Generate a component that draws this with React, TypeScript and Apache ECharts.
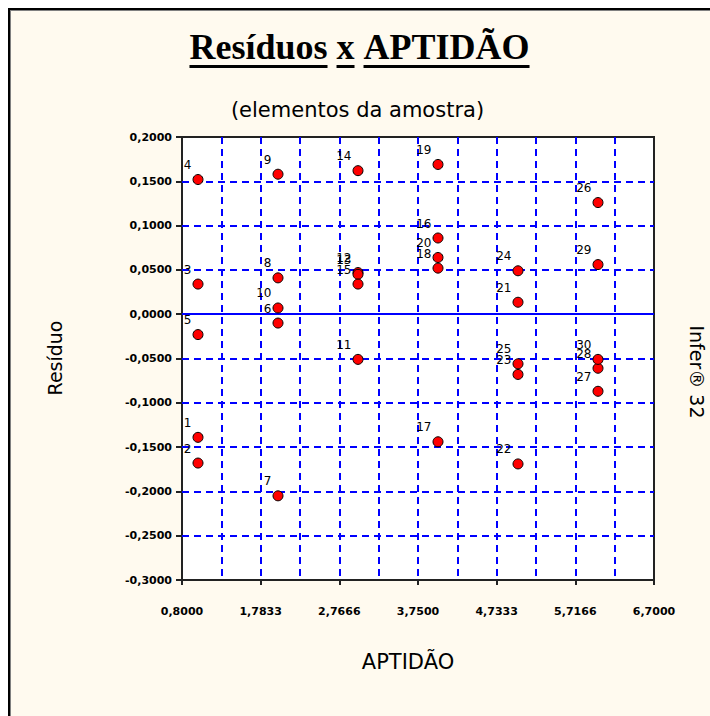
import React, { useEffect, useRef } from "react";
import * as echarts from "echarts";

// ---- data ----
const ELEMENTS = [
  "1", "2", "3", "4", "5", "6", "7", "8", "9", "10",
  "11", "12", "13", "14", "15", "16", "17", "18", "19", "20",
  "21", "22", "23", "24", "25", "26", "27", "28", "29", "30",
];
const APTIDAO = [
  1, 1, 1, 1, 1, 2, 2, 2, 2, 2,
  3, 3, 3, 3, 3, 4, 4, 4, 4, 4,
  5, 5, 5, 5, 5, 6, 6, 6, 6, 6,
];
const RESIDUO = [
  -0.139, -0.168, 0.034, 0.152, -0.023, -0.010, -0.205, 0.041, 0.158, 0.007,
  -0.051, 0.047, 0.045, 0.162, 0.034, 0.086, -0.144, 0.052, 0.169, 0.064,
  0.0135, -0.169, -0.068, 0.049, -0.056, 0.126, -0.087, -0.061, 0.056, -0.051,
];
const X_TICK_LABELS = ["0,8000", "1,7833", "2,7666", "3,7500", "4,7333", "5,7166", "6,7000"];
const Y_TICK_LABELS = [
  "-0,3000", "-0,2500", "-0,2000", "-0,1500", "-0,1000", "-0,0500",
  "0,0000", "0,0500", "0,1000", "0,1500", "0,2000",
];
const TITLE_WORDS = ["Resíduos", "x", "APTIDÃO"];
const SUBTITLE = "(elementos da amostra)";
const Y_NAME = "Resíduo";
const X_NAME = "APTIDÃO";
const SIDE_NOTE = "Infer® 32";

const X_MIN = 0.8;
const X_MAX = 6.7;
const X_STEP = (X_MAX - X_MIN) / 12;
const Y_MIN = -0.3;
const Y_MAX = 0.2;
const Y_STEP = 0.05;

const SANS = '"DejaVu Sans", sans-serif';
const SERIF = '"Liberation Serif", "Times New Roman", serif';

export default function App() {
  const ref = useRef<HTMLDivElement>(null);

  useEffect(() => {
    const chart = echarts.init(ref.current!, null, { renderer: "svg" });

    // title with per-word underline
    const titleSize = 36;
    const ctx = document.createElement("canvas").getContext("2d")!;
    ctx.font = `bold ${titleSize}px ${SERIF}`;
    const spaceW = ctx.measureText(" ").width;
    const widths = TITLE_WORDS.map((w) => ctx.measureText(w).width);
    const total = widths.reduce((a, b) => a + b, 0) + spaceW * (TITLE_WORDS.length - 1);
    const centerX = 349.5;
    const titleY = 37;
    const underlineY = 56.5;
    let cx = centerX - total / 2;
    const titleEls: any[] = [];
    TITLE_WORDS.forEach((w, i) => {
      titleEls.push({
        type: "text",
        x: cx,
        y: titleY,
        style: {
          text: w,
          fontSize: titleSize,
          fontWeight: "bold",
          fontFamily: SERIF,
          fill: "#000",
          align: "left",
          verticalAlign: "middle",
        },
      });
      titleEls.push({
        type: "line",
        shape: { x1: cx, y1: underlineY, x2: cx + widths[i], y2: underlineY },
        style: { stroke: "#000", lineWidth: 3 },
      });
      cx += widths[i] + spaceW;
    });

    const data = APTIDAO.map((x, i) => [(x - X_MIN) / X_STEP, RESIDUO[i], ELEMENTS[i]]);

    const gridLine = { color: "#0000FF", type: [7, 5], width: 2 };
    const tickFont = { fontFamily: SANS, fontSize: 11, fontWeight: "bold", color: "#000" };

    const option: any = {
      animation: false,
      grid: {
        left: 172,
        top: 127,
        width: 472,
        height: 443,
        show: true,
        backgroundColor: "#FFFFFF",
        borderColor: "#222",
        borderWidth: 2,
      },
      xAxis: [
        {
          type: "value",
          min: 0,
          max: 12,
          interval: 1,
          axisLine: { show: false },
          axisTick: { show: false },
          axisLabel: { show: false },
          splitLine: { show: true, showMinLine: false, showMaxLine: false, lineStyle: gridLine },
        },
        {
          type: "value",
          position: "bottom",
          min: 0,
          max: 12,
          interval: 2,
          axisLine: { show: false },
          axisTick: { show: true, length: 5, lineStyle: { color: "#222", width: 2 } },
          axisLabel: {
            margin: 26,
            ...tickFont,
            formatter: (v: number) => X_TICK_LABELS[Math.round(v / 2)] ?? "",
          },
          splitLine: { show: false },
        },
      ],
      yAxis: {
        type: "value",
        min: Y_MIN,
        max: Y_MAX,
        interval: Y_STEP,
        axisLine: { show: false },
        axisTick: { show: true, length: 6, lineStyle: { color: "#222", width: 2 } },
        axisLabel: {
          margin: 10,
          ...tickFont,
          formatter: (v: number) => Y_TICK_LABELS[Math.round((v - Y_MIN) / Y_STEP)] ?? "",
        },
        splitLine: { show: true, showMinLine: false, showMaxLine: false, lineStyle: gridLine },
      },
      series: [
        {
          type: "scatter",
          xAxisIndex: 0,
          z: 3,
          data,
          symbol: "circle",
          symbolSize: 10,
          itemStyle: { color: "#FF0000", borderColor: "#000", borderWidth: 1, opacity: 1 },
          label: {
            show: true,
            position: [-1, -9],
            align: "right",
            verticalAlign: "middle",
            fontFamily: SANS,
            fontSize: 12,
            color: "#000",
            formatter: (p: any) => p.data[2],
          },
          markLine: {
            silent: true,
            symbol: "none",
            label: { show: false },
            lineStyle: { color: "#0000FF", type: "solid", width: 2 },
            data: [{ yAxis: 0 }],
            z: 1,
          },
        },
      ],
      graphic: [
        ...titleEls,
        {
          type: "text",
          x: 347.5,
          y: 100,
          style: { text: SUBTITLE, fontSize: 21, fontFamily: SANS, fill: "#000", align: "center", verticalAlign: "middle" },
        },
        {
          type: "text",
          x: 45,
          y: 348,
          rotation: Math.PI / 2,
          style: { text: Y_NAME, fontSize: 19, fontFamily: SANS, fill: "#000", align: "center", verticalAlign: "middle" },
        },
        {
          type: "text",
          x: 398,
          y: 652,
          style: { text: X_NAME, fontSize: 21, fontFamily: SANS, fill: "#000", align: "center", verticalAlign: "middle" },
        },
        {
          type: "text",
          x: 687,
          y: 362,
          rotation: -Math.PI / 2,
          style: { text: SIDE_NOTE, fontSize: 19, fontFamily: SANS, fill: "#000", align: "center", verticalAlign: "middle" },
        },
      ],
    };

    chart.setOption(option);
    return () => chart.dispose();
  }, []);

  return (
    <div
      style={{
        position: "fixed",
        left: 8,
        top: 8,
        width: 702,
        height: 708,
        boxSizing: "border-box",
        borderTop: "2px solid #000",
        borderLeft: "2px solid #000",
        background: "#FFFAEF",
        boxShadow: "inset 1px 1px 0 #808080",
        overflow: "hidden",
      }}
    >
      <div ref={ref} style={{ width: 700, height: 706 }} />
    </div>
  );
}
